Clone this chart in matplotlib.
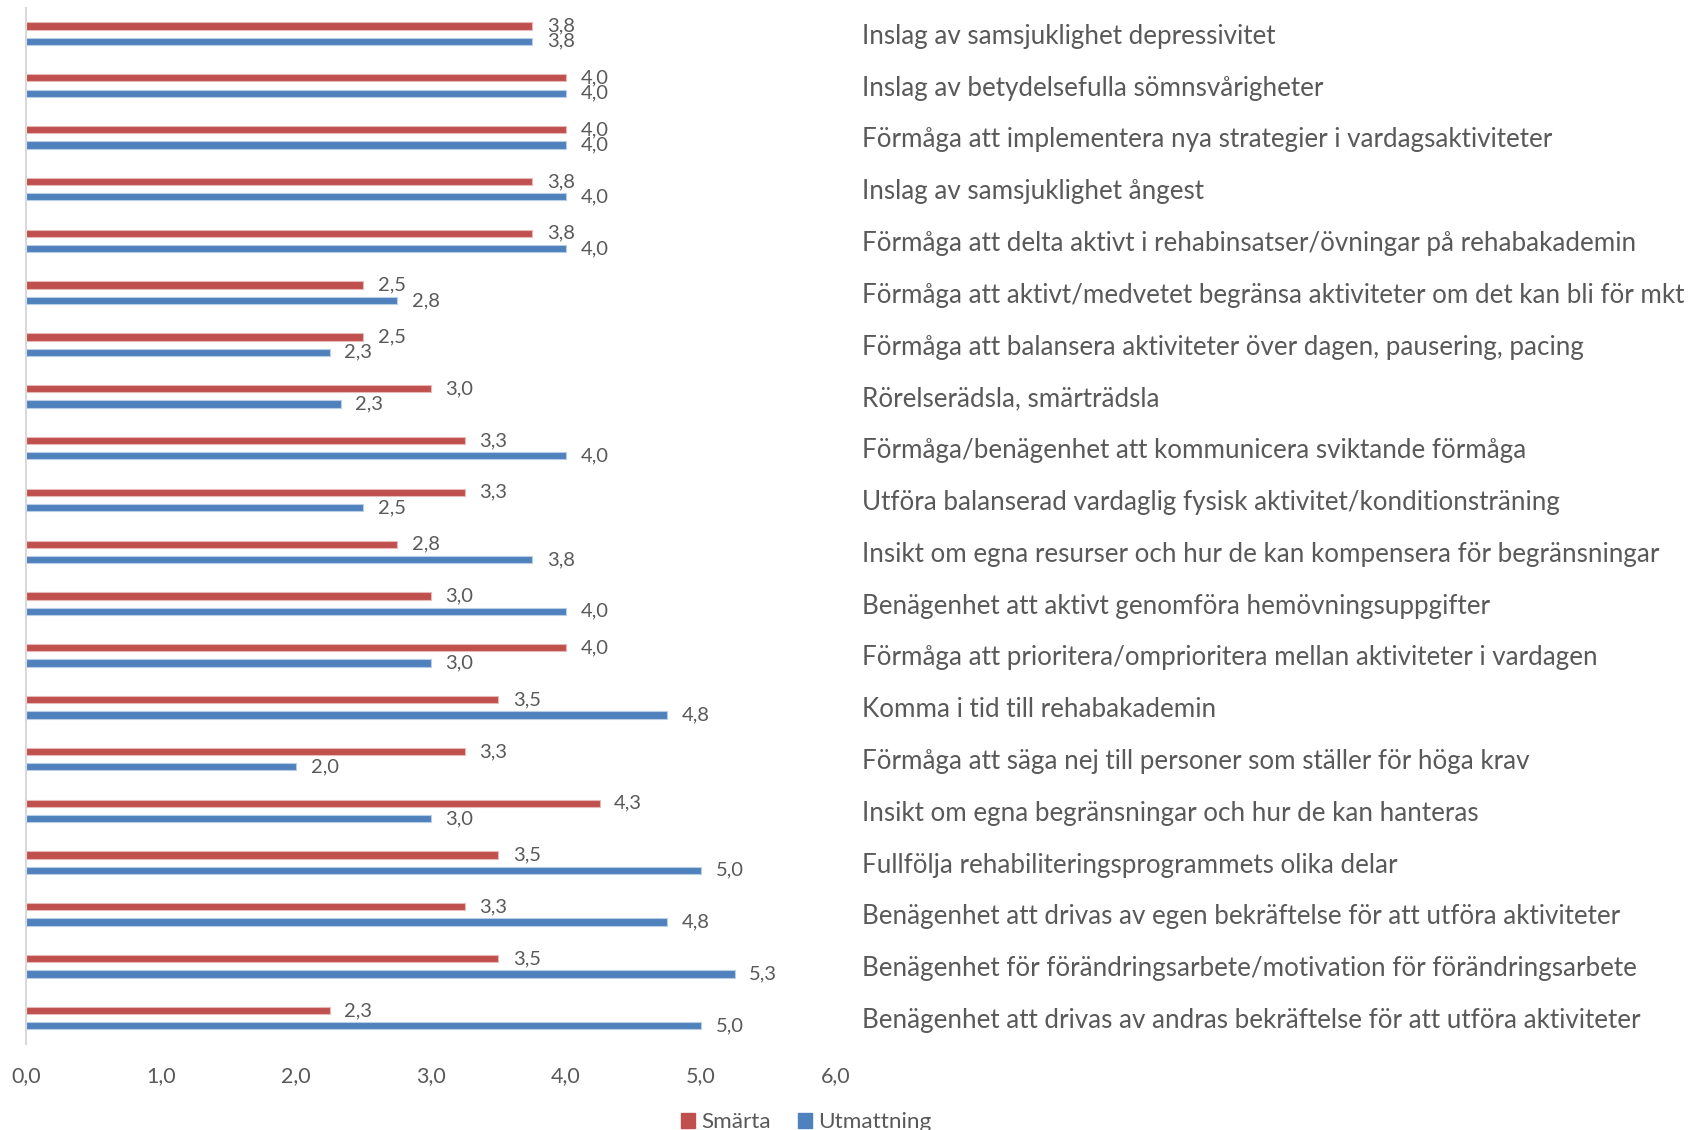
import matplotlib
matplotlib.use("Agg")
import matplotlib.pyplot as plt
from matplotlib.patches import Patch
import numpy as np

# kategorier uppifrån och ned
KATEGORIER = [
    "Inslag av samsjuklighet depressivitet",
    "Inslag av betydelsefulla sömnsvårigheter",
    "Förmåga att implementera nya strategier i vardagsaktiviteter",
    "Inslag av samsjuklighet ångest",
    "Förmåga att delta aktivt i rehabinsatser/övningar på rehabakademin",
    "Förmåga att aktivt/medvetet begränsa aktiviteter om det kan bli för mkt",
    "Förmåga att balansera aktiviteter över dagen, pausering, pacing",
    "Rörelserädsla, smärträdsla",
    "Förmåga/benägenhet att kommunicera sviktande förmåga",
    "Utföra balanserad vardaglig fysisk aktivitet/konditionsträning",
    "Insikt om egna resurser och hur de kan kompensera för begränsningar",
    "Benägenhet att aktivt genomföra hemövningsuppgifter",
    "Förmåga att prioritera/omprioritera mellan aktiviteter i vardagen",
    "Komma i tid till rehabakademin",
    "Förmåga att säga nej till personer som ställer för höga krav",
    "Insikt om egna begränsningar och hur de kan hanteras",
    "Fullfölja rehabiliteringsprogrammets olika delar",
    "Benägenhet att drivas av egen bekräftelse för att utföra aktiviteter",
    "Benägenhet för förändringsarbete/motivation för förändringsarbete",
    "Benägenhet att drivas av andras bekräftelse för att utföra aktiviteter",
]

SMARTA = [3.75, 4.0, 4.0, 3.75, 3.75, 2.5, 2.5, 3.0, 3.25, 3.25,
          2.75, 3.0, 4.0, 3.5, 3.25, 4.25, 3.5, 3.25, 3.5, 2.25]
UTMATTNING = [3.75, 4.0, 4.0, 4.0, 4.0, 2.75, 2.25, 2.33, 4.0, 2.5,
              3.75, 4.0, 3.0, 4.75, 2.0, 3.0, 5.0, 4.75, 5.25, 5.0]

XTICKS = [0, 1, 2, 3, 4, 5, 6]
XTICK_LABELS = ["0,0", "1,0", "2,0", "3,0", "4,0", "5,0", "6,0"]

ROD = "#C0504D"
BLA = "#4F81BD"
TEXT = "#595959"
FONT = "Lato"


def etikett(v):
    # avrunda halva uppåt, decimalkomma
    return f"{v + 1e-9:.1f}".replace(".", ",")


fig = plt.figure(figsize=(17.04, 11.30), dpi=100)
ax = fig.add_axes([0.0153, 0.0761, 0.4752, 0.917])

y = np.arange(len(KATEGORIER))
h = 0.14
off = 0.1475

b1 = ax.barh(y - off, SMARTA, height=h, color=ROD,
             edgecolor="#E6B9B8", linewidth=0.8, label="Smärta")
b2 = ax.barh(y + off, UTMATTNING, height=h, color=BLA,
             edgecolor="#B9CDE5", linewidth=0.8, label="Utmattning")

for bars, vals in ((b1, SMARTA), (b2, UTMATTNING)):
    ax.bar_label(bars, labels=[etikett(v) for v in vals], padding=10.5,
                 fontsize=14.5, color=TEXT, family=FONT)

ax.set_xlim(0, 6)
ax.set_ylim(len(KATEGORIER) - 0.5, -0.5)
ax.set_xticks(XTICKS)
ax.set_xticklabels(XTICK_LABELS, fontsize=15.5, color=TEXT, family=FONT)
ax.tick_params(axis="x", length=0, pad=16)

ax.yaxis.tick_right()
ax.set_yticks(y)
ax.set_yticklabels(KATEGORIER, fontsize=18.7, color=TEXT, family=FONT)
ax.tick_params(axis="y", length=0, pad=19)

for s in ("top", "right", "bottom"):
    ax.spines[s].set_visible(False)
ax.spines["left"].set_color("#D9D9D9")
ax.spines["left"].set_linewidth(1.5)

handles = [Patch(color=ROD, label="Smärta"), Patch(color=BLA, label="Utmattning")]
fig.legend(handles=handles, loc="center", bbox_to_anchor=(0.473, 0.007), ncol=2,
           frameon=False, handlelength=0.65, handleheight=0.65, handletextpad=0.25,
           columnspacing=1.2, prop={"family": FONT, "size": 16.2},
           labelcolor=TEXT)

fig.savefig("out.png", dpi=100)
